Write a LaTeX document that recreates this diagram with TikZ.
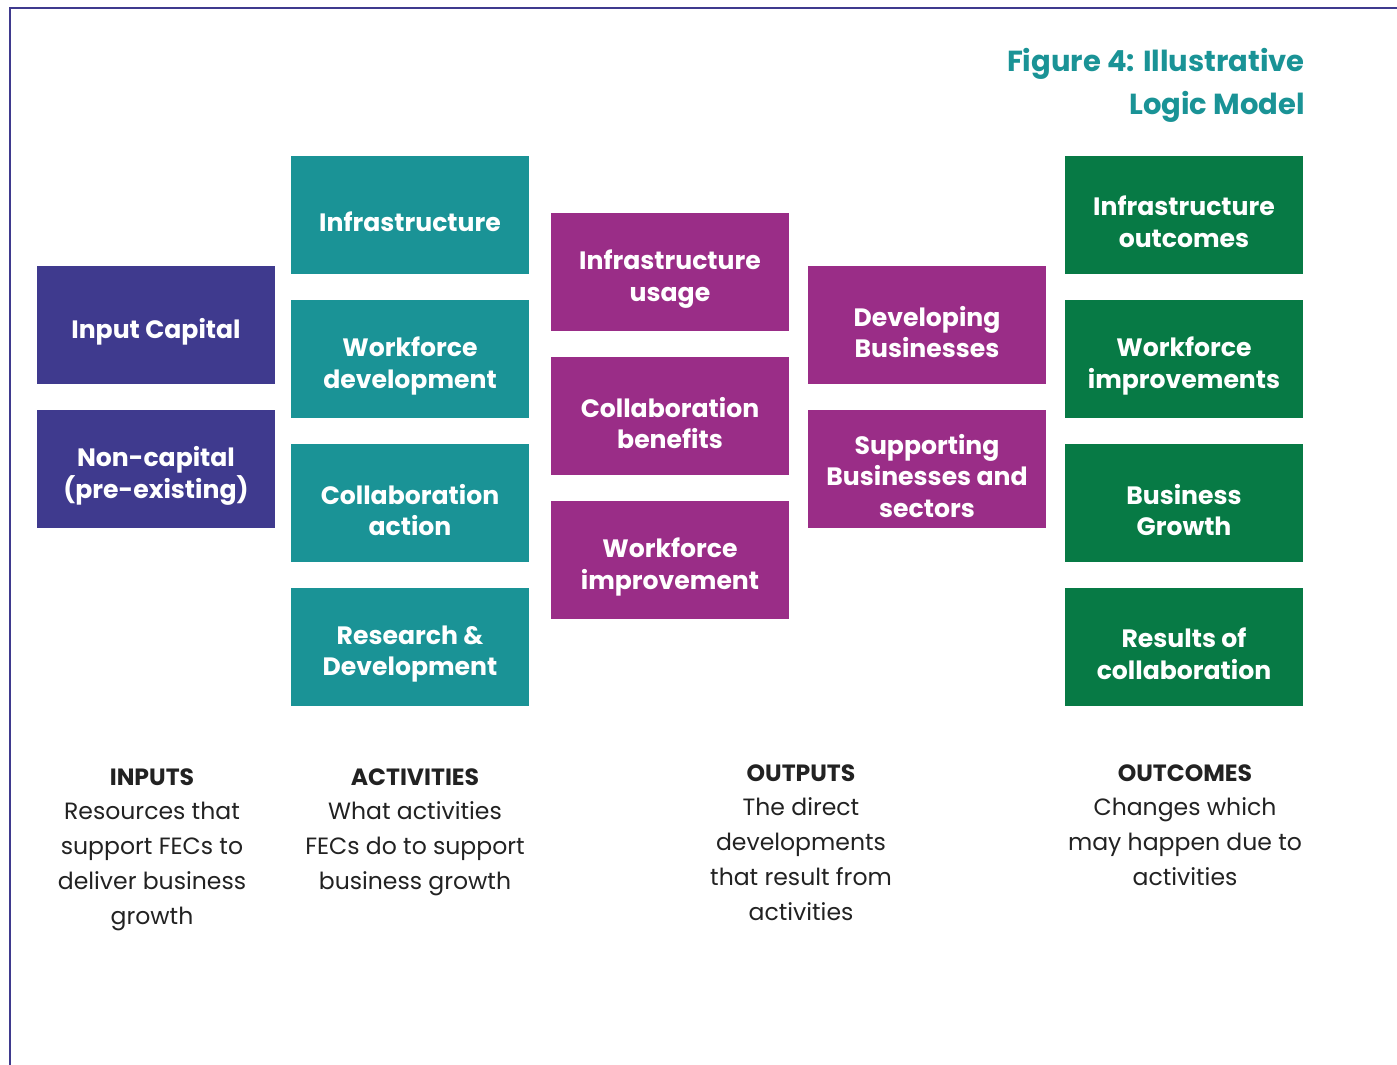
\documentclass[tikz,border=0pt]{standalone}
\usepackage{fontspec}
\setmainfont{Poppins}
\usepackage{xcolor}
\usepackage{tikz}
\definecolor{frame}{HTML}{3F3A8E}
\definecolor{inp}{HTML}{3F3A8E}
\definecolor{act}{HTML}{1A9396}
\definecolor{outp}{HTML}{9A2D87}
\definecolor{outc}{HTML}{077A45}
\definecolor{ink}{HTML}{222222}
\tikzset{
  box/.style={minimum width=4.76cm, minimum height=2.36cm, inner sep=0pt},
  boxtxt/.style={inner sep=0pt, align=center, text=white, yshift=-0.14cm,
    font=\bfseries\fontsize{14.3}{18.1}\selectfont},
  inbox/.style={box, fill=inp},
  actbox/.style={box, fill=act},
  outbox/.style={box, fill=outp},
  ocbox/.style={box, fill=outc},
  captxt/.style={anchor=north, inner sep=0pt, align=center, text=ink,
    font=\fontsize{13.4}{19.8}\selectfont},
  ttl/.style={anchor=north east, inner sep=0pt, align=right, text=act,
    font=\bfseries\fontsize{16.5}{24.4}\selectfont},
}
\begin{document}
\begin{tikzpicture}[x=0.02cm,y=-0.02cm]
  \useasboundingbox (0,0) rectangle (1397,1065);
  \draw[frame, line width=1.7pt] (10,1065) -- (10,8) -- (1397,8);
  \node[ttl] (title) at (1305,48) {Figure 4: Illustrative\\Logic Model};
  % inputs
  \node[inbox, label={[boxtxt]center:Input Capital}] (inA) at (156,325) {};
  \node[inbox, label={[boxtxt]center:Non-capital\\(pre-existing)}] (inB) at (156,469) {};
  % activities
  \foreach \n/\y/\t in {actA/215/Infrastructure, actB/359/Workforce\\development,
      actC/503/Collaboration\\action, actD/647/Research \&\\Development}
    \node[actbox, label={[boxtxt]center:\t}] (\n) at (410,\y) {};
  % outputs
  \foreach \n/\y/\t in {outA/272/Infrastructure\\usage, outB/416/Collaboration\\benefits,
      outC/560/Workforce\\improvement}
    \node[outbox, label={[boxtxt]center:\t}] (\n) at (670,\y) {};
  \node[outbox, label={[boxtxt]center:Developing\\Businesses}] (outD) at (927,325) {};
  \node[outbox, label={[boxtxt]center:Supporting\\Businesses and\\sectors}] (outE) at (927,469) {};
  % outcomes
  \foreach \n/\y/\t in {ocA/215/Infrastructure\\outcomes, ocB/359/Workforce\\improvements,
      ocC/503/Business\\Growth, ocD/647/Results of\\collaboration}
    \node[ocbox, label={[boxtxt]center:\t}] (\n) at (1184,\y) {};
  % captions
  \node[captxt] (capIn) at (152,768) {\textbf{INPUTS}\\Resources that\\support FECs to\\deliver business\\growth};
  \node[captxt] (capAct) at (415,768) {\textbf{ACTIVITIES}\\What activities\\FECs do to support\\business growth};
  \node[captxt] (capOut) at (801,764) {\textbf{OUTPUTS}\\The direct\\developments\\that result from\\activities};
  \node[captxt] (capOc) at (1185,764) {\textbf{OUTCOMES}\\Changes which\\may happen due to\\activities};
\end{tikzpicture}
\end{document}
